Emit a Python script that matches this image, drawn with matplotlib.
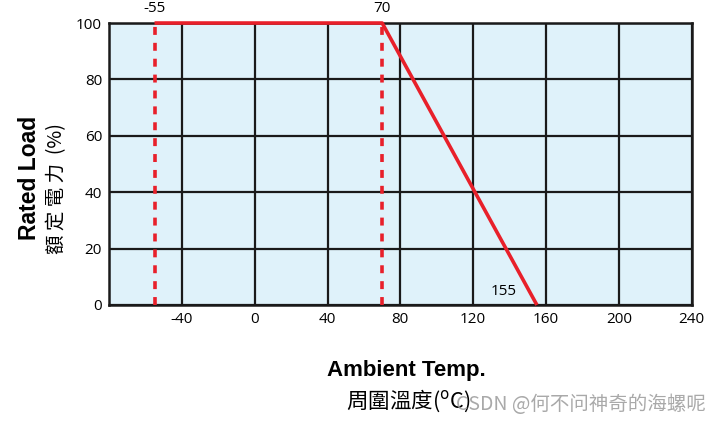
import matplotlib.pyplot as plt
import matplotlib.ticker as ticker

plt.rcParams['font.family'] = ['Open Sans', 'Noto Sans CJK TC', 'DejaVu Sans']
plt.rcParams['axes.unicode_minus'] = False

# derating curve
curve_temp = [-55, 70, 155]
curve_load = [100, 100, 0]
dash_temps = [-55, 70]
x_ticks = [-40, 0, 40, 80, 120, 160, 200, 240]
y_ticks = [0, 20, 40, 60, 80, 100]

red = '#e8202a'

fig = plt.figure(figsize=(7.22, 4.24), dpi=100)
ax = fig.add_axes([0.151, 0.2807, 0.807, 0.665])
ax.set_facecolor('#dff2fa')

ax.set_xlim(-80, 240)
ax.set_ylim(0, 100)
ax.xaxis.set_major_locator(ticker.FixedLocator(x_ticks))
ax.yaxis.set_major_locator(ticker.FixedLocator(y_ticks))
ax.tick_params(length=0, labelsize=11, pad=5)
ax.grid(True, color='#1a1a1a', linewidth=1.6)
for s in ax.spines.values():
    s.set_linewidth(1.8)
    s.set_color('#1a1a1a')

for t in dash_temps:
    ax.plot([t, t], [0, 100], color=red, linewidth=2.6, linestyle=(0, (2.2, 2.2)), zorder=3,
            clip_on=False)
ax.plot(curve_temp, curve_load, color=red, linewidth=2.6, zorder=4, clip_on=False,
        solid_capstyle='butt')

ax.text(-55, 102.5, '-55', ha='center', va='bottom', fontsize=11)
ax.text(70, 102.5, '70', ha='center', va='bottom', fontsize=11)
ax.text(144, 2, '155', ha='right', va='bottom', fontsize=11)

fig.text(0.041, 0.58, 'Rated Load', rotation=90, ha='center', va='center',
         fontsize=16.5, fontweight='bold', family=['Liberation Sans', 'DejaVu Sans'])
fig.text(0.078, 0.555, '額 定 電 力  (%)', rotation=90, ha='center', va='center',
         fontsize=14, family=['Noto Sans CJK TC', 'DejaVu Sans'])

fig.text(0.563, 0.127, 'Ambient Temp.', ha='center', va='center',
         fontsize=16, fontweight='bold', family=['Liberation Sans', 'DejaVu Sans'])
fig.text(0.565, 0.055, '周圍溫度($^{\\rm o}$C)', ha='center', va='center',
         fontsize=15.5, family=['Noto Sans CJK TC', 'DejaVu Sans'])

fig.text(0.978, 0.045, 'CSDN @何不问神奇的海螺呢', ha='right', va='center',
         fontsize=14, color='#9a9a9a', alpha=0.85,
         family=['Noto Sans CJK SC', 'DejaVu Sans'])

fig.savefig('out.png', dpi=100)
